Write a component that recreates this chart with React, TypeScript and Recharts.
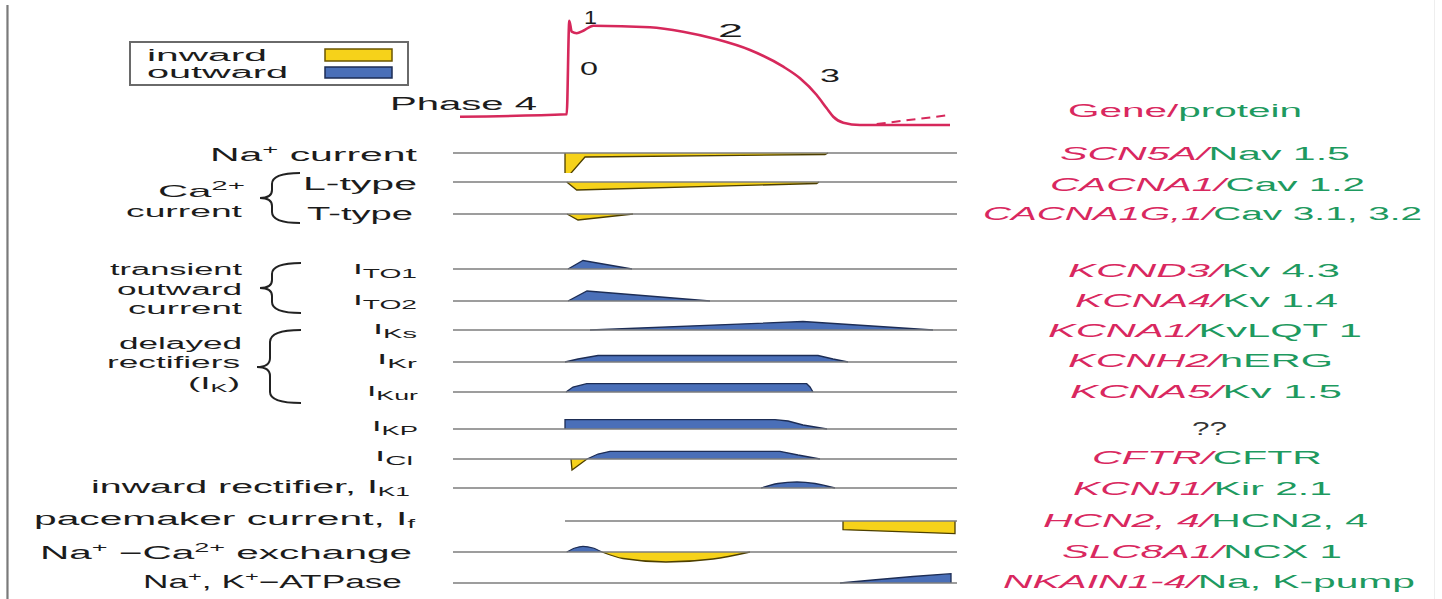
import React from 'react';
import { ComposedChart, Line, Area, XAxis, YAxis, ReferenceLine } from 'recharts';

type P = { t: number; v: number };
const pts = (pairs: number[][]): P[] => pairs.map(([t, v]) => ({ t, v }));

// ---------- Action potential (time units 0..504, membrane potential mV) ----------
const apSolid = pts([
  [7, -86.6], [113.7, -83.5], [116.3, 36.3], [118.7, 22.2], [123.7, 20.2], [130.3, 23.5],
  [140.3, 29.9], [197, 27.9], [230, 22.2], [263.7, 12.5], [297, -1.2], [330.3, -22.6],
  [347, -37.4], [363.7, -58.8], [373.7, -75.8], [380.3, -86.6], [390.3, -94.3], [407, -97.2], [497, -97.2],
]);
const apDashed = pts([[423.7, -95.9], [497, -84.4]]);

// ---------- Ionic currents (positive = outward, negative = inward) ----------
const naIn = pts([[112, 0], [112, -27], [132, -4], [372, -1.5], [375, 0]]);
const caLIn = pts([[113.7, 0], [123.7, -8], [363.7, -1.5], [366, 0]]);
const caTIn = pts([[114, 0], [125, -6], [180, 0]]);
const ito1Out = pts([[115, 0], [130, 8.5], [179, 0]]);
const ito2Out = pts([[115, 0], [134, 10], [257, 0]]);
const iksOut = pts([[137, 0], [350, 8.5], [480, 0]]);
const ikrOut = pts([[112, 0], [125, 3], [145, 6.5], [365, 6.5], [380, 3], [395, 0]]);
const ikurOut = pts([[113, 0], [120, 5], [133.7, 8.3], [353.7, 8.3], [357, 5], [360, 0]]);
const ikpOut = pts([[112, 0], [112, 9.3], [322, 9.3], [335, 8], [350, 4], [374, 0]]);
const iclIn = pts([[118, 0], [119, -11], [134, 0]]);
const iclOut = pts([[134, 0], [145, 5], [157, 7.7], [327, 7.7], [345, 4], [367, 0]]);
const ik1Out = pts([[308, 0], [325, 4.5], [344, 6], [362, 4.5], [382, 0]]);
const ifIn = pts([[390, 0], [390, -8.7], [502, -12.7], [502, 0]]);
const ncxOut = pts([[113.7, 0], [122, 4], [130, 5.7], [140, 4], [149, 0]]);
const ncxIn = pts([[149, 0], [170, -6.5], [213, -10], [260, -7], [297, 0]]);
const nakOut = pts([[387, 0], [420, 3], [460, 6.5], [498, 9.3], [498, 0]]);

const YELLOW = '#F6D21A';
const YELLOW_EDGE = '#4d3f00';
const BLUE = '#4A6FB8';
const BLUE_EDGE = '#1d2d55';
const RED = '#D6285B';
const GENE = '#D9285F';
const PROT = '#1E9A60';

type Row = {
  y: number;
  start?: number;
  inward?: P[];
  outward?: P[];
  inCurve?: 'linear' | 'monotone';
  outCurve?: 'linear' | 'monotone';
};

const rows: Row[] = [
  { y: 152.7, inward: naIn },
  { y: 182.3, inward: caLIn },
  { y: 214, inward: caTIn },
  { y: 269.3, outward: ito1Out },
  { y: 301, outward: ito2Out },
  { y: 330, outward: iksOut },
  { y: 362, outward: ikrOut },
  { y: 392.3, outward: ikurOut },
  { y: 429.3, outward: ikpOut },
  { y: 458.7, inward: iclIn, outward: iclOut },
  { y: 488, outward: ik1Out, outCurve: 'monotone' },
  { y: 520.7, inward: ifIn, start: 112 },
  { y: 551.7, inward: ncxIn, outward: ncxOut, inCurve: 'monotone', outCurve: 'monotone' },
  { y: 583.3, outward: nakOut },
];

const X0 = 453;
const W = 504;

function TraceRow({ row }: { row: Row }) {
  return (
    <div style={{ position: 'absolute', left: X0, top: row.y - 20, width: W, height: 40 }}>
      <ComposedChart width={W} height={40} margin={{ top: 0, right: 0, bottom: 0, left: 0 }}>
        <XAxis type="number" dataKey="t" domain={[0, 504]} hide allowDataOverflow />
        <YAxis type="number" domain={[-20, 20]} hide allowDataOverflow />
        <ReferenceLine
          segment={[{ x: row.start ?? 0, y: 0 }, { x: 504, y: 0 }]}
          stroke="#7c7c7c"
          strokeWidth={1.6}
        />
        {row.inward && (
          <Area
            data={row.inward}
            dataKey="v"
            type={row.inCurve ?? 'linear'}
            baseValue={0}
            fill={YELLOW}
            fillOpacity={1}
            stroke={YELLOW_EDGE}
            strokeWidth={1.3}
            isAnimationActive={false}
            dot={false}
            activeDot={false}
          />
        )}
        {row.outward && (
          <Area
            data={row.outward}
            dataKey="v"
            type={row.outCurve ?? 'linear'}
            baseValue={0}
            fill={BLUE}
            fillOpacity={1}
            stroke={BLUE_EDGE}
            strokeWidth={1.3}
            isAnimationActive={false}
            dot={false}
            activeDot={false}
          />
        )}
      </ComposedChart>
    </div>
  );
}

// ---------- Text helpers ----------
const FONT = '"Liberation Sans", Arial, Helvetica, sans-serif';

function T({ x, y, w, size = 18, fill = '#1c1c1c', children }: any) {
  return (
    <text x={x} y={y} textLength={w} lengthAdjust="spacingAndGlyphs" fontSize={size} fill={fill} fontFamily={FONT}>
      {children}
    </text>
  );
}

function Gene({ x, y, w, gene, protein }: any) {
  return (
    <text x={x} y={y} textLength={w} lengthAdjust="spacingAndGlyphs" fontSize={18} fontFamily={FONT}>
      <tspan fill={GENE} fontStyle="italic">{gene}/</tspan>
      <tspan fill={PROT}>{protein}</tspan>
    </text>
  );
}

const geneLabels = [
  { gene: 'SCN5A', protein: 'Nav 1.5' },
  { gene: 'CACNA1', protein: 'Cav 1.2' },
  { gene: 'CACNA1G,1', protein: 'Cav 3.1, 3.2' },
  { gene: 'KCND3', protein: 'Kv 4.3' },
  { gene: 'KCNA4', protein: 'Kv 1.4' },
  { gene: 'KCNA1', protein: 'KvLQT 1' },
  { gene: 'KCNH2', protein: 'hERG' },
  { gene: 'KCNA5', protein: 'Kv 1.5' },
  { gene: '', protein: '??' },
  { gene: 'CFTR', protein: 'CFTR' },
  { gene: 'KCNJ1', protein: 'Kir 2.1' },
  { gene: 'HCN2, 4', protein: 'HCN2, 4' },
  { gene: 'SLC8A1', protein: 'NCX 1' },
  { gene: 'NKAIN1-4', protein: 'Na, K-pump' },
];
const geneBoxes = [
  [1060, 160, 290], [1050, 190.5, 315], [983, 220, 439], [1068, 276.5, 272], [1075, 307, 263],
  [1048, 336.5, 314], [1068, 367, 265], [1070, 398, 272], [1192, 434.5, 35], [1092, 464, 230],
  [1073, 494.5, 259], [1043, 526.5, 325], [1062, 558, 280], [1003, 588, 412],
];

function Overlay() {
  const sup = (s: string) => (
    <tspan fontSize={12} dy={-7}>{s}</tspan>
  );
  return (
    <svg width={1442} height={599} style={{ position: 'absolute', left: 0, top: 0, pointerEvents: 'none' }}>
      {/* legend */}
      <rect x={130} y={42} width={278} height={43} fill="none" stroke="#6a6a6a" strokeWidth={2} />
      <T x={147} y={61} w={120} size={16}>inward</T>
      <T x={147} y={77.5} w={141} size={16}>outward</T>
      <rect x={325} y={49} width={67} height={12} fill={YELLOW} stroke="#6b5600" strokeWidth={1.5} />
      <rect x={325} y={67} width={67} height={11} fill={BLUE} stroke={BLUE_EDGE} strokeWidth={1.5} />

      {/* action potential phase labels */}
      <T x={584} y={24} w={13}>1</T>
      <T x={718} y={37} w={25}>2</T>
      <T x={580} y={75} w={18}>0</T>
      <T x={820} y={82} w={20}>3</T>
      <T x={390} y={110} w={147}>Phase 4</T>

      {/* gene / protein column */}
      <text x={1068} y={116.5} textLength={234} lengthAdjust="spacingAndGlyphs" fontSize={18} fontFamily={FONT}>
        <tspan fill={GENE}>Gene/</tspan>
        <tspan fill={PROT}>protein</tspan>
      </text>
      {geneLabels.map((g, i) =>
        g.gene ? (
          <Gene key={i} x={geneBoxes[i][0]} y={geneBoxes[i][1]} w={geneBoxes[i][2]} gene={g.gene} protein={g.protein} />
        ) : (
          <T key={i} x={geneBoxes[i][0]} y={geneBoxes[i][1]} w={geneBoxes[i][2]} fill="#333">{g.protein}</T>
        )
      )}

      {/* left labels */}
      <T x={210} y={161} w={207}>Na{sup('+')}<tspan dy={7}> current</tspan></T>
      <T x={158} y={197} w={87} size={17}>Ca{sup('2+')}</T>
      <T x={126} y={217} w={116} size={17}>current</T>
      <T x={303} y={189.5} w={114}>L-type</T>
      <T x={307} y={219.5} w={106}>T-type</T>

      <T x={110} y={275} w={132} size={16}>transient</T>
      <T x={117} y={294.5} w={125} size={16}>outward</T>
      <T x={128} y={314} w={114} size={16}>current</T>
      <T x={353} y={274} w={64} size={15}>I<tspan fontSize={12} dy={4}>TO1</tspan></T>
      <T x={353} y={305} w={64} size={15}>I<tspan fontSize={12} dy={4}>TO2</tspan></T>

      <T x={119} y={349} w={123} size={16}>delayed</T>
      <T x={107} y={368} w={133} size={16}>rectifiers</T>
      <T x={188} y={389} w={52} size={16}>(I<tspan fontSize={11} dy={3}>K</tspan><tspan dy={-3}>)</tspan></T>
      <T x={373} y={334} w={44} size={15}>I<tspan fontSize={12} dy={4}>Ks</tspan></T>
      <T x={377} y={364} w={40} size={15}>I<tspan fontSize={12} dy={4}>Kr</tspan></T>
      <T x={367} y={396} w={51} size={15}>I<tspan fontSize={12} dy={4}>Kur</tspan></T>
      <T x={372} y={431} w={46} size={15}>I<tspan fontSize={12} dy={4}>KP</tspan></T>
      <T x={375} y={461} w={38} size={15}>I<tspan fontSize={12} dy={4}>Cl</tspan></T>

      <T x={91} y={493} w={319}>inward rectifier, I<tspan fontSize={12} dy={3}>K1</tspan></T>
      <T x={34} y={525} w={381}>pacemaker current, I<tspan fontSize={12} dy={3}>f</tspan></T>
      <T x={40} y={559} w={372}>Na{sup('+')}<tspan dy={7}> −Ca</tspan>{sup('2+')}<tspan dy={7}> exchange</tspan></T>
      <T x={143} y={588} w={259}>Na{sup('+')}<tspan dy={7}>, K</tspan>{sup('+')}<tspan dy={7}>−ATPase</tspan></T>

      {/* braces */}
      <g fill="none" stroke="#222" strokeWidth={2}>
        <path d="M300,173 Q272,173 272,184 L272,190 Q272,198 260,198 Q272,198 272,206 L272,212 Q272,223 300,223" />
        <path d="M301,263 Q272,263 272,274 L272,280 Q272,288 260,288 Q272,288 272,296 L272,302 Q272,313 301,313" />
        <path d="M301,330 Q270,330 270,342 L270,358 Q270,367 257,367 Q270,367 270,376 L270,392 Q270,403 301,403" />
      </g>
    </svg>
  );
}

export default function App() {
  return (
    <div style={{ position: 'absolute', left: 0, top: 0, width: 1442, height: 599, background: '#fff', overflow: 'hidden', fontFamily: FONT }}>
      <div style={{ position: 'absolute', left: 6, top: 5, width: 3, height: 594, background: 'linear-gradient(to right, #c4c4c4, #7a7a7a, #cfcfcf)' }} />
      <div style={{ position: 'absolute', left: 1434, top: 0, width: 1, height: 599, background: '#eeeeee' }} />

      <div style={{ position: 'absolute', left: X0, top: 10, width: W, height: 125 }}>
        <ComposedChart width={W} height={125} margin={{ top: 0, right: 0, bottom: 0, left: 0 }}>
          <XAxis type="number" dataKey="t" domain={[0, 504]} hide allowDataOverflow />
          <YAxis type="number" domain={[-110, 50]} hide allowDataOverflow />
          <Line data={apSolid} dataKey="v" type="monotone" stroke={RED} strokeWidth={2.6} dot={false} activeDot={false} isAnimationActive={false} />
          <Line data={apDashed} dataKey="v" type="linear" stroke={RED} strokeWidth={2} strokeDasharray="9 6" dot={false} activeDot={false} isAnimationActive={false} />
        </ComposedChart>
      </div>

      {rows.map((r, i) => (
        <TraceRow key={i} row={r} />
      ))}

      <Overlay />
    </div>
  );
}
